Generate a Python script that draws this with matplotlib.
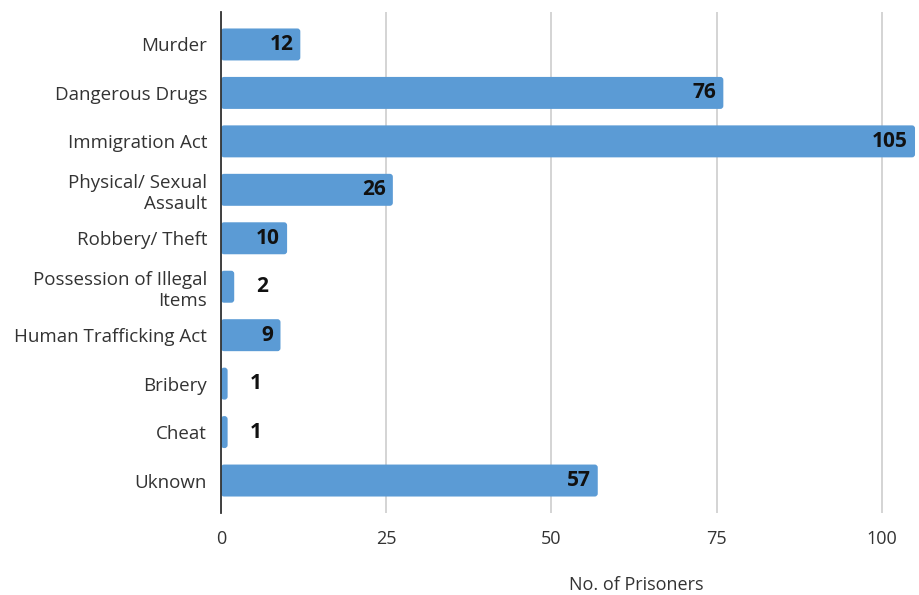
import matplotlib
matplotlib.use("Agg")
import matplotlib.pyplot as plt
from matplotlib.patches import FancyBboxPatch

categories = ["Murder", "Dangerous Drugs", "Immigration Act", "Physical/ Sexual\nAssault",
              "Robbery/ Theft", "Possession of Illegal\nItems", "Human Trafficking Act",
              "Bribery", "Cheat", "Uknown"]
values = [12, 76, 105, 26, 10, 2, 9, 1, 1, 57]
xticks = [0, 25, 50, 75, 100]
xlabel = "No. of Prisoners"

plt.rcParams['font.family'] = ['Open Sans', 'DejaVu Sans']

fig = plt.figure(figsize=(9.2, 5.95), dpi=100)
ax = fig.add_axes([221/920, 1-513/595, (917-221)/920, (513-12)/595])

bar_color = "#5B9BD5"
ypos = list(range(len(categories)))
bars = ax.barh(ypos, values, height=0.66, color=bar_color, zorder=3)

# replace rectangles with rounded-corner versions
px_x = (917-221) / 105.3
px_y = (513-12) / 10.34
r_px = 3.0
for b in bars:
    x0, y0 = b.get_x(), b.get_y()
    w, h = b.get_width(), b.get_height()
    b.set_visible(False)
    rs = r_px / px_x
    p = FancyBboxPatch((x0, y0), w, h,
                       boxstyle=f"round,pad=0,rounding_size={rs}",
                       mutation_aspect=(r_px/px_y)/rs,
                       facecolor=bar_color, edgecolor="none", zorder=3)
    ax.add_patch(p)

for y, v in zip(ypos, values):
    if v >= 5:
        ax.annotate(str(v), (v, y), xytext=(-5, 0), textcoords="offset points",
                    ha="right", va="center", fontsize=15, fontweight="bold",
                    color="#111111", zorder=4)
    else:
        ax.annotate(str(v), (v, y), xytext=(16, 0), textcoords="offset points",
                    ha="left", va="center", fontsize=15, fontweight="bold",
                    color="#111111", zorder=4)

ax.set_xlim(0, 105.3)
ax.set_ylim(9.67, -0.67)
ax.set_yticks(ypos)
ax.set_yticklabels(categories, fontsize=13.5, color="#333333", linespacing=1.25)
ax.set_xticks(xticks)
ax.set_xticklabels([str(t) for t in xticks], fontsize=13, color="#333333")
ax.tick_params(axis="both", length=0)
ax.tick_params(axis="y", pad=10)
ax.tick_params(axis="x", pad=12)

for s in ["top", "right", "bottom"]:
    ax.spines[s].set_visible(False)
ax.spines["left"].set_color("#333333")
ax.spines["left"].set_linewidth(1.3)
ax.spines["left"].set_zorder(5)

ax.xaxis.grid(True, color="#d4d4d4", linewidth=1.4, zorder=0)
ax.set_axisbelow(True)

fig.text(636/920, 1-585/595, xlabel, ha="center", va="center", fontsize=13, color="#333333")

fig.savefig("out.png", dpi=100)
